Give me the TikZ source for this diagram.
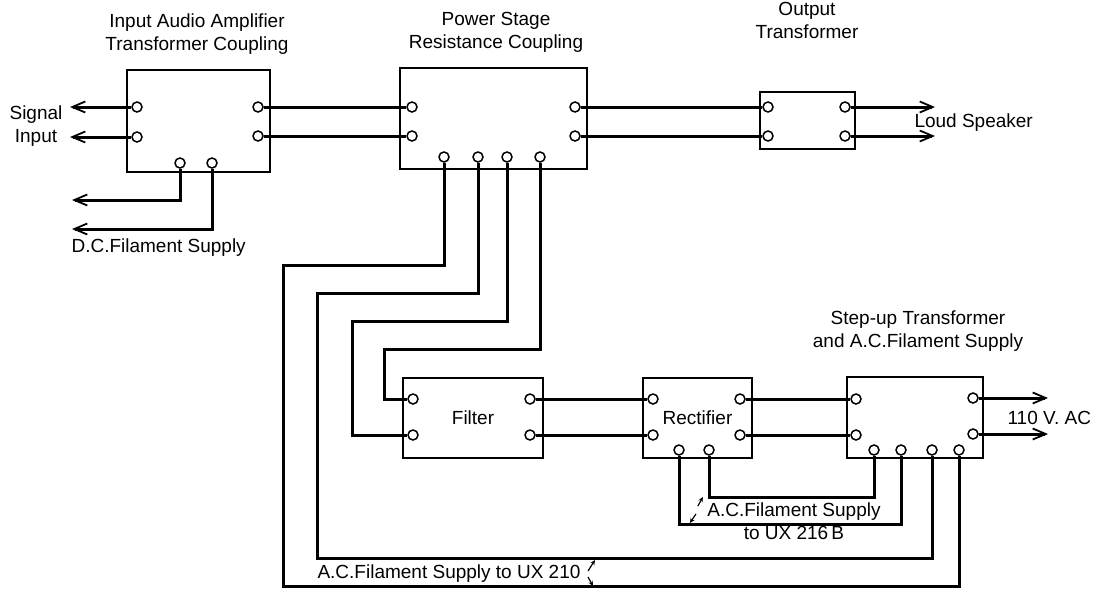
\documentclass[tikz,border=0pt]{standalone}
\usepackage{fontspec}
\setmainfont{Liberation Sans}
\usetikzlibrary{arrows.meta}
\begin{document}
\begin{tikzpicture}[x=1pt,y=-1pt,font=\fontsize{19}{23}\selectfont,
  unit/.style={draw,line width=1.8pt,inner sep=0pt},
  term/.style={circle,draw,fill=white,line width=1.5pt,inner sep=0pt,minimum size=10pt},
  wire/.style={line width=3pt},
  feed/.style={wire,-{Straight Barb[length=13pt,width=11pt,line width=1.8pt]}},
  tick/.style={line width=1.2pt,-{Stealth[length=5pt,width=4.5pt]}},
  title/.style={align=center}]
\useasboundingbox (0,0) rectangle (1098,589);
\foreach \n/\x/\y/\w/\h/\t in {ia/198.5/121/143/102/{},ps/493.5/118.5/187/101/{},ot/807.5/120.5/95/57/{},
  fl/473/418/140/80/Filter,rc/697.5/418/109/80/Rectifier,su/915/417.5/136/81/{}}{
  \node[unit,minimum width=\w pt,minimum height=\h pt] (\n) at (\x,\y) {\t};}
\foreach \n/\x/\y in {ia-l1/137/107,ia-l2/137/137,ia-r1/258/107,ia-r2/258/136,ia-b1/180/163,ia-b2/212/163,
  ps-l1/412/107,ps-l2/412/136,ps-r1/575/107,ps-r2/575/136,ps-b1/444/157,ps-b2/478/157,ps-b3/507/157,ps-b4/540/157,
  ot-l1/768/107,ot-l2/768/136,ot-r1/845/107,ot-r2/845/136,
  fl-l1/413/399,fl-l2/413/435,fl-r1/530/399,fl-r2/530/435,
  rc-l1/653/399,rc-l2/653/435,rc-r1/740/399,rc-r2/740/435,rc-b1/679/450,rc-b2/709/450,
  su-l1/856/399,su-l2/856/435,su-r1/973/398,su-r2/973/434,su-b1/874/450,su-b2/901/450,su-b3/932/450,su-b4/959/450}{
  \node[term] (\n) at (\x,\y) {};}
\node[title] (ia-t) at (197,34) {Input Audio Amplifier\\Transformer Coupling};
\node[title] (ps-t) at (496,32.5) {Power Stage\\Resistance Coupling};
\node[title] (ot-t) at (807,20.5) {Output\\Transformer};
\node[title] (su-t) at (918,331.5) {Step-up Transformer\\and A.C.Filament Supply};
\node[title] (sig) at (36,126.5) {Signal\\Input};
\node[anchor=west] (dc) at (68,248) {D.C.Filament Supply};
\node[anchor=west] (ls) at (911,123) {Loud Speaker};
\node[anchor=west] (ac) at (1004,418) {110 V. AC};
\node[title] (ux216) at (794,521.5) {A.C.Filament Supply\\to UX 216\,B};
\node[anchor=east] (ux210) at (584,574) {A.C.Filament Supply to UX 210};
\coordinate (sig1) at (70,107); \coordinate (sig2) at (70,137);
\coordinate (dc1) at (72,200); \coordinate (dc2) at (72,229);
\coordinate (ls1) at (935,107); \coordinate (ls2) at (935,136);
\coordinate (ac1) at (1048,398); \coordinate (ac2) at (1048,434);
\draw[feed] (ia-l1) -- (sig1);
\draw[feed] (ia-l2) -- (sig2);
\draw[feed] (ia-b1) |- (dc1);
\draw[feed] (ia-b2) |- (dc2);
\draw[wire] (ia-r1) -- (ps-l1);
\draw[wire] (ia-r2) -- (ps-l2);
\draw[wire] (ps-r1) -- (ot-l1);
\draw[wire] (ps-r2) -- (ot-l2);
\draw[feed] (ot-r1) -- (ls1);
\draw[feed] (ot-r2) -- (ls2);
\draw[wire] (fl-r1) -- (rc-l1);
\draw[wire] (fl-r2) -- (rc-l2);
\draw[wire] (rc-r1) -- (su-l1);
\draw[wire] (rc-r2) -- (su-l2);
\draw[feed] (su-r1) -- (ac1);
\draw[feed] (su-r2) -- (ac2);
\draw[wire] (ps-b4) |- (384,349) |- (fl-l1);
\draw[wire] (ps-b3) |- (352,321) |- (fl-l2);
\draw[wire] (ps-b2) |- (317,293) -- (317,558) -| (su-b3);
\draw[wire] (ps-b1) |- (283,265) -- (283,586) -| (su-b4);
\draw[wire] (rc-b2) -- (709,497) -| (su-b1);
\draw[wire] (rc-b1) -- (679,524) -| (su-b2);
\draw[tick] (ux216.west) ++(-6,-15.5) -- ++(5,-9);
\draw[tick] (ux216.west) ++(-8,-7.5) -- ++(-6,9);
\draw[tick] (ux210.east) ++(4,-3) -- ++(7,-11);
\draw[tick] (ux210.east) ++(4,3) -- ++(5,9);
\end{tikzpicture}
\end{document}
